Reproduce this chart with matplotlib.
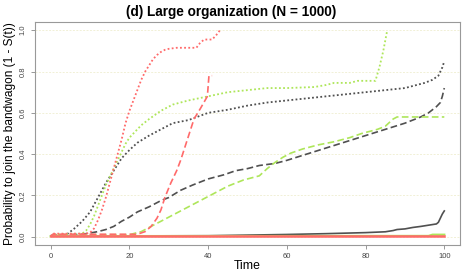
import numpy as np
import matplotlib
matplotlib.use("Agg")
import matplotlib.pyplot as plt

plt.rcParams['font.family'] = ['Liberation Sans', 'DejaVu Sans']

# ---- data ----
red_dot_t = [0, 0.5, 5, 9, 10, 11, 12, 13, 14, 15, 16, 17, 18, 19, 20, 21, 22, 23, 24, 25,
             26, 27, 28, 29, 30, 32, 37, 38, 39, 41, 42, 43]
red_dot_y = [0.0, 0.015, 0.015, 0.015, 0.02, 0.04, 0.08, 0.13, 0.19, 0.26, 0.33, 0.40, 0.47, 0.55,
             0.61, 0.66, 0.71, 0.76, 0.8, 0.83, 0.86, 0.88, 0.895, 0.905, 0.91, 0.915, 0.915,
             0.94, 0.955, 0.955, 0.975, 1.0]

red_dash_t = [0, 0.5, 10, 22, 24, 25.5, 27, 28, 29, 30.5, 32, 33, 34.7, 36.4, 38, 39.8, 40.2, 41]
red_dash_y = [0.0, 0.012, 0.012, 0.012, 0.025, 0.05, 0.09, 0.13, 0.19, 0.26, 0.32, 0.37, 0.47,
              0.57, 0.62, 0.68, 0.78, 0.78]

green_dot_t = [0, 0.5, 8, 9, 10, 11, 12, 13, 14, 15, 16, 17, 18, 19, 20, 21, 22, 23, 25, 28, 31, 35,
               40, 45, 50, 55, 60, 67, 70, 72, 76, 78, 82.5, 83.5, 84.5, 85.5]
green_dot_y = [0.0, 0.012, 0.015, 0.03, 0.06, 0.1, 0.15, 0.2, 0.25, 0.29, 0.33, 0.37, 0.41, 0.45, 0.48,
               0.5, 0.52, 0.54, 0.57, 0.61, 0.64, 0.66, 0.68, 0.7, 0.71, 0.72, 0.72, 0.725, 0.735,
               0.745, 0.745, 0.755, 0.755, 0.82, 0.9, 1.0]

gray_dot_t = [0, 4, 5, 6, 8, 10, 12, 14, 16, 18, 20, 22, 25, 28, 31, 35, 40, 45, 50, 55, 60, 70, 80,
              85, 90, 95, 97, 98.5, 99.5, 100]
gray_dot_y = [0.005, 0.01, 0.025, 0.04, 0.075, 0.12, 0.19, 0.26, 0.32, 0.38, 0.42, 0.455, 0.49, 0.52,
              0.55, 0.565, 0.6, 0.615, 0.635, 0.65, 0.66, 0.68, 0.7, 0.71, 0.72, 0.745, 0.76, 0.78,
              0.82, 0.85]

gray_dash_t = [0, 8, 10, 12, 14, 16, 18, 20, 22, 25, 28, 30, 33, 36, 40, 44, 47, 50, 53, 57, 60, 65,
               70, 75, 80, 85, 90, 94, 96, 98, 99, 99.5, 100]
gray_dash_y = [0.005, 0.012, 0.018, 0.025, 0.035, 0.05, 0.075, 0.095, 0.12, 0.145, 0.175, 0.19, 0.225,
               0.25, 0.28, 0.3, 0.32, 0.33, 0.345, 0.355, 0.37, 0.4, 0.43, 0.46, 0.49, 0.52, 0.55,
               0.58, 0.6, 0.63, 0.65, 0.68, 0.72]

green_dash_t = [0, 0.5, 20, 21, 23, 25, 27, 29, 31, 33, 35, 37, 39, 41, 43, 45, 47, 49, 51, 53, 55,
                57, 59, 61, 64, 68, 72, 76, 79, 83, 85, 87, 88, 100]
green_dash_y = [0.0, 0.01, 0.01, 0.015, 0.025, 0.045, 0.065, 0.085, 0.105, 0.125, 0.145, 0.165, 0.185,
                0.205, 0.225, 0.245, 0.26, 0.275, 0.285, 0.295, 0.33, 0.36, 0.385, 0.405, 0.425, 0.445,
                0.46, 0.48, 0.5, 0.52, 0.535, 0.57, 0.58, 0.58]

gray_solid_t = [0, 40, 50, 60, 70, 80, 85, 87, 88, 90, 92, 94, 96, 98, 98.5, 99, 99.5, 100]
gray_solid_y = [0.003, 0.005, 0.008, 0.011, 0.015, 0.02, 0.024, 0.03, 0.035, 0.038, 0.045, 0.05,
                0.056, 0.062, 0.07, 0.09, 0.11, 0.125]

green_solid_t = [0, 96, 97, 100]
green_solid_y = [0.003, 0.004, 0.01, 0.01]

red_solid_t = [0, 100]
red_solid_y = [0.005, 0.005]

RED = '#ff6a6a'
GREEN = '#aee65a'
GRAY = '#505050'

dot = (0, (1.0, 1.3))
dash = (0, (4.0, 2.0))

fig = plt.figure(figsize=(4.63, 2.74), dpi=100)
ax = fig.add_axes([0.0756, 0.1058, 0.918, 0.814])

for y in [0, 0.2, 0.4, 0.6, 0.8, 1.0]:
    ax.axhline(y, color='#f1f0d6', lw=0.7, ls=(0, (2, 1.5)), zorder=0)

ax.plot(gray_solid_t, gray_solid_y, color=GRAY, lw=1.2)
ax.plot(gray_dash_t, gray_dash_y, color=GRAY, lw=1.2, ls=dash)
ax.plot(gray_dot_t, gray_dot_y, color=GRAY, lw=1.3, ls=dot)
ax.plot(green_solid_t, green_solid_y, color=GREEN, lw=1.6)
ax.plot(green_dash_t, green_dash_y, color=GREEN, lw=1.2, ls=dash)
ax.plot(green_dot_t, green_dot_y, color=GREEN, lw=1.3, ls=dot)
ax.plot(red_solid_t, red_solid_y, color=RED, lw=1.8)
ax.plot(red_dash_t, red_dash_y, color=RED, lw=1.2, ls=dash)
ax.plot(red_dot_t, red_dot_y, color=RED, lw=1.3, ls=dot)

ax.set_xlim(-4, 104)
ax.set_ylim(-0.04, 1.04)
ax.set_xticks([0, 20, 40, 60, 80, 100])
ax.set_yticks([0.0, 0.2, 0.4, 0.6, 0.8, 1.0])
ax.set_yticklabels(['0.0', '0.2', '0.4', '0.6', '0.8', '1.0'], rotation=90, va='center')
ax.tick_params(axis='both', labelsize=5.5, length=3, width=0.6, color='#888888',
               labelcolor='#444444', pad=3)
for s in ax.spines.values():
    s.set_color('#999999')
    s.set_linewidth(0.8)

ax.set_xlabel('Time', fontsize=8.8, labelpad=0)
ax.set_ylabel('Probability to join the bandwagon (1 - S(t))', fontsize=8.6, labelpad=3)
fig.text(0.5, 0.955, '(d) Large organization (N = 1000)', fontsize=9.8, fontweight='bold',
         ha='center', va='center')

fig.savefig('out.png', dpi=100)
